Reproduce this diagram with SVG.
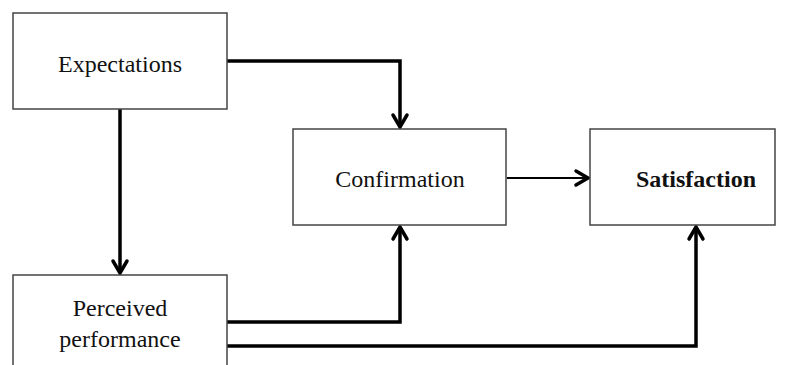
<svg xmlns="http://www.w3.org/2000/svg" width="790" height="365" viewBox="0 0 790 365">
  <style>
    .box { fill: #fff; stroke: #444; stroke-width: 1.5; }
    .label { font-family: "Liberation Serif", "Times New Roman", serif; font-size: 24px; fill: #111; text-anchor: middle; }
    .bold { font-weight: bold; }
    .wire { fill: none; stroke: #000; stroke-width: 3.5; stroke-linejoin: miter; }
    .thin { stroke-width: 2; }
    .head { fill: none; stroke: #000; stroke-width: 3.5; stroke-linecap: round; stroke-linejoin: miter; }
  </style>
  <rect width="790" height="365" fill="#fff"/>

  <g id="connectors">
    <!-- Expectations -> Confirmation -->
    <path class="wire" d="M227 61 H400 V126"/>
    <path class="head" d="M393 115 L400 127 L407 115"/>
    <!-- Expectations -> Perceived performance -->
    <path class="wire" d="M120 109 V272"/>
    <path class="head" d="M113 261 L120 273 L127 261"/>
    <!-- Perceived performance -> Confirmation -->
    <path class="wire" d="M227 322 H400 V228"/>
    <path class="head" d="M393 239 L400 227 L407 239"/>
    <!-- Perceived performance -> Satisfaction -->
    <path class="wire" d="M227 346 H696 V228"/>
    <path class="head" d="M689 239 L696 227 L703 239"/>
    <!-- Confirmation -> Satisfaction -->
    <path class="wire thin" d="M507 178 H587"/>
    <path class="head" d="M576 171 L588 178 L576 185"/>
  </g>

  <g id="expectations">
    <rect class="box" x="13" y="13" width="214" height="96"/>
    <text class="label" x="120" y="72">Expectations</text>
  </g>

  <g id="confirmation">
    <rect class="box" x="293" y="129" width="213" height="96"/>
    <text class="label" x="400" y="187">Confirmation</text>
  </g>

  <g id="satisfaction">
    <rect class="box" x="590" y="129" width="185" height="96"/>
    <text class="label bold" x="696" y="187">Satisfaction</text>
  </g>

  <g id="perceived-performance">
    <rect class="box" x="13" y="275" width="214" height="100"/>
    <text class="label" x="120" y="316">Perceived</text>
    <text class="label" x="120" y="347">performance</text>
  </g>
</svg>
